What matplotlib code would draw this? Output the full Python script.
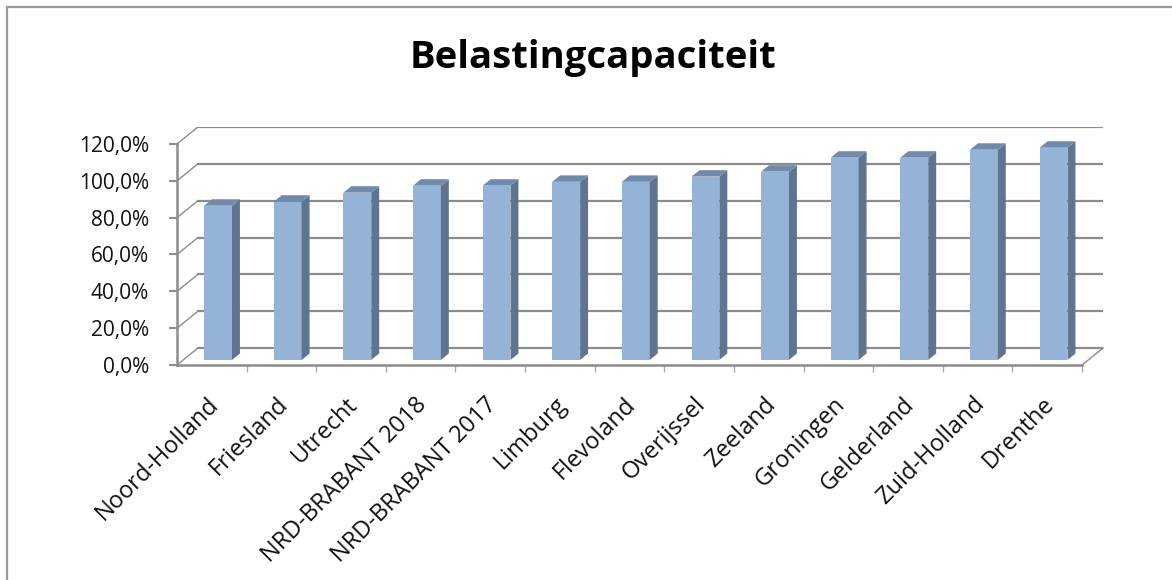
import matplotlib
matplotlib.use("Agg")
import matplotlib.pyplot as plt
from matplotlib.patches import Polygon, Rectangle
from matplotlib.transforms import ScaledTranslation

# gegevens
provincies = ["Noord-Holland", "Friesland", "Utrecht", "NRD-BRABANT 2018",
              "NRD-BRABANT 2017", "Limburg", "Flevoland", "Overijssel",
              "Zeeland", "Groningen", "Gelderland", "Zuid-Holland", "Drenthe"]
belasting = [83.7, 85.9, 90.8, 94.6, 94.6, 96.7, 96.7, 99.5,
             102.2, 109.8, 109.8, 114.1, 115.2]
yticks = [0, 20, 40, 60, 80, 100, 120]
ytick_labels = ["0,0%", "20,0%", "40,0%", "60,0%", "80,0%", "100,0%", "120,0%"]

plt.rcParams['font.family'] = ['Open Sans', 'DejaVu Sans']

W, H = 1172, 580
fig = plt.figure(figsize=(W / 100, H / 100), dpi=100)
ax = fig.add_axes([177 / W, 215 / H, 926 / W, 238 / H])

n = len(provincies)
dx, dy = 0.30, 9.2      # diepte van de 3D-doos (data-eenheden)
grijs = "#8c8c8c"

ax.set_xlim(0, n + dx)
ax.set_ylim(0, yticks[-1] + dy)
for s in ["top", "right"]:
    ax.spines[s].set_visible(False)
ax.spines["left"].set_bounds(0, yticks[-1])
ax.spines["bottom"].set_bounds(0, n)
for s in ["left", "bottom"]:
    ax.spines[s].set_color(grijs)
    ax.spines[s].set_linewidth(1.8)

# achterwand en zijwand
for v in yticks:
    ax.plot([dx, n + dx], [v + dy, v + dy], color=grijs, lw=1.6, zorder=1)
    ax.plot([0, dx], [v, v + dy], color=grijs, lw=1.0, zorder=1)
ax.plot([n, n + dx], [0, dy], color=grijs, lw=1.0, zorder=1, clip_on=False)

# kolommen
df, db, w = 0.3, 0.68, 0.4
ox, oy = (db - df) * dx, (db - df) * dy
for i, v in enumerate(belasting):
    x0 = i + 0.5 - w / 2 + df * dx
    x1 = x0 + w
    y0 = df * dy
    y1 = y0 + v
    voor = [(x0, y0), (x1, y0), (x1, y1), (x0, y1)]
    zij = [(x1, y0), (x1 + ox, y0 + oy), (x1 + ox, y1 + oy), (x1, y1)]
    boven = [(x0, y1), (x1, y1), (x1 + ox, y1 + oy), (x0 + ox, y1 + oy)]
    ax.add_patch(Polygon(voor, closed=True, fc="#95b3d7", ec="none", zorder=3))
    ax.add_patch(Polygon(zij, closed=True, fc="#5f7491", ec="none", zorder=3))
    ax.add_patch(Polygon(boven, closed=True, fc="#7189aa", ec="none", zorder=3))

ax.set_yticks(yticks, ytick_labels)
ax.tick_params(axis="y", length=6, width=1.5, color=grijs, labelsize=15,
               pad=14, labelcolor="#111111")
ax.set_xticks([])
ax.set_xticks(range(1, n + 1), minor=True)
ax.tick_params(axis="x", which="minor", length=5, width=1, color="#aaaaaa")

offset = ScaledTranslation(3 / 100, -36 / 100, fig.dpi_scale_trans)
for i, naam in enumerate(provincies):
    ax.text(i + 0.5, 0, naam, transform=ax.transData + offset, rotation=45,
            ha="right", va="center", rotation_mode="anchor", fontsize=17,
            color="#111111")

fig.text(593 / W, 1 - 58 / H, "Belastingcapaciteit", ha="center", va="center",
         fontsize=27.5, fontweight="bold")

# kader
fig.patches.append(Rectangle((7 / W, -1), 2, 2 - 7 / H, transform=fig.transFigure,
                             fill=False, ec="#999999", lw=1.6))

fig.savefig("out.png", dpi=100)
